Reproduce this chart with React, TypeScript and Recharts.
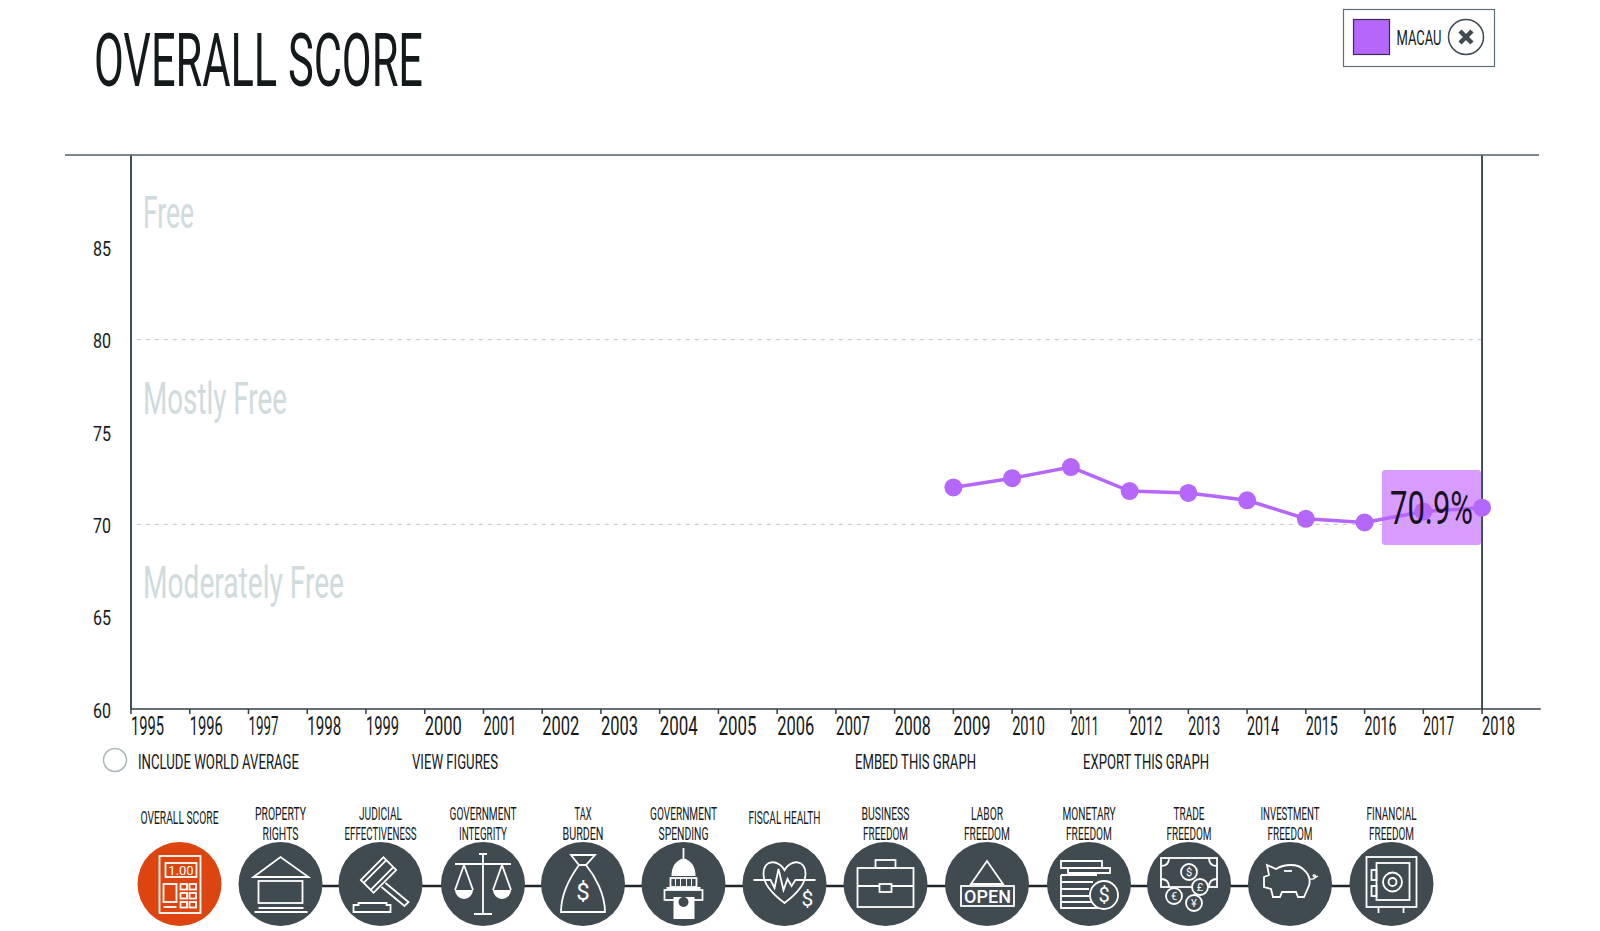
import React from "react";
import { LineChart, Line, XAxis, YAxis, ReferenceLine } from "recharts";

const years = [2009, 2010, 2011, 2012, 2013, 2014, 2015, 2016, 2017, 2018];
const scores = [72.0, 72.5, 73.1, 71.8, 71.7, 71.3, 70.3, 70.1, 70.7, 70.9];
const yearTicks = [1995, 1996, 1997, 1998, 1999, 2000, 2001, 2002, 2003, 2004, 2005, 2006, 2007, 2008, 2009, 2010, 2011, 2012, 2013, 2014, 2015, 2016, 2017, 2018];
const yearWidths = [33, 33, 30, 34, 33, 37, 33, 37, 37, 38, 38, 37, 34, 36, 37, 33, 28, 33, 32, 32, 32, 32, 31, 33];
const scoreTicks = [60, 65, 70, 75, 80, 85];
const bands = [
  { label: "Free", x: 143, y: 228, w: 51 },
  { label: "Mostly Free", x: 143, y: 414, w: 144 },
  { label: "Moderately Free", x: 143, y: 598, w: 201 },
];
const actions = [
  { label: "INCLUDE WORLD AVERAGE", x: 138, w: 161 },
  { label: "VIEW FIGURES", x: 412, w: 86 },
  { label: "EMBED THIS GRAPH", x: 855, w: 121 },
  { label: "EXPORT THIS GRAPH", x: 1083, w: 126 },
];
const indicators = [
  { cx: 179.5, lines: [["OVERALL SCORE", 78]] },
  { cx: 280.5, lines: [["PROPERTY", 51], ["RIGHTS", 36]] },
  { cx: 380.5, lines: [["JUDICIAL", 43], ["EFFECTIVENESS", 72]] },
  { cx: 483, lines: [["GOVERNMENT", 67], ["INTEGRITY", 48]] },
  { cx: 583, lines: [["TAX", 17], ["BURDEN", 41]] },
  { cx: 683.5, lines: [["GOVERNMENT", 67], ["SPENDING", 50]] },
  { cx: 784.5, lines: [["FISCAL HEALTH", 72]] },
  { cx: 885.5, lines: [["BUSINESS", 48], ["FREEDOM", 45]] },
  { cx: 987, lines: [["LABOR", 32], ["FREEDOM", 46]] },
  { cx: 1089, lines: [["MONETARY", 53], ["FREEDOM", 46]] },
  { cx: 1189, lines: [["TRADE", 31], ["FREEDOM", 45]] },
  { cx: 1290, lines: [["INVESTMENT", 59], ["FREEDOM", 45]] },
  { cx: 1391.5, lines: [["FINANCIAL", 50], ["FREEDOM", 45]] },
];

const data = years.map((year, i) => ({ year, score: scores[i] }));

const INK = "#14191c";
const SLATE = "#3f4b50";
const PURPLE = "#b566fb";
const FONT = "Roboto, 'Liberation Sans', sans-serif";

function T({ x, y, w, size, fill = INK, anchor = "start", weight = 400, children }: any) {
  return (
    <text x={x} y={y} fontFamily={FONT} fontSize={size} fontWeight={weight} fill={fill} textAnchor={anchor}
      textLength={w} lengthAdjust={w ? "spacingAndGlyphs" : undefined}>
      {children}
    </text>
  );
}

function YearTick({ x, payload }: any) {
  const i = yearTicks.indexOf(payload.value);
  return <T x={x} y={735} w={yearWidths[i]} size={25}>{payload.value}</T>;
}
function ScoreTick({ y, payload }: any) {
  return <T x={93} y={y + 8.5} w={18} size={21}>{payload.value}</T>;
}

const S = { fill: "none", stroke: "#fff", strokeWidth: 1.8 } as any;
const D = { fill: SLATE, stroke: "#fff", strokeWidth: 1.8 } as any;
const G = (x: number, y: number, ch: string, size = 13, fill = "#fff") => (
  <text x={x} y={y + size * 0.36} textAnchor="middle" fontFamily={FONT} fontWeight={400} fontSize={size} fill={fill}>{ch}</text>
);
const icons: React.ReactNode[] = [
  <g>
    <rect x={-20} y={-28} width={41} height={57} {...S} />
    <rect x={-14} y={-21} width={31} height={14} {...S} />
    {G(1.5, -14, "1.00", 13)}
    <rect x={-16} y={0} width={13} height={18} {...S} />
    <line x1={-16} x2={-3} y1={23} y2={23} {...S} />
    {[1, 10].map((gx) => [0, 9, 18].map((gy) => <rect key={gx + "-" + gy} x={gx} y={gy} width={6.5} height={5.5} {...S} />))}
  </g>,
  <g>
    <polygon points="-27,-7 0,-27 28,-7" {...S} />
    <rect x={-22} y={-3} width={44} height={22} {...S} />
    <line x1={-22} x2={23} y1={24} y2={24} {...S} />
    <line x1={-26} x2={27} y1={28} y2={28} {...S} />
  </g>,
  <g>
    <path d="M-27,21 H-22 V19 H6 V21 H10 V28 H-27 Z" {...S} />
    <g transform="rotate(45 -2 -9)">
      <rect x={-11} y={-25} width={18} height={32} {...S} />
      <line x1={-7} x2={-7} y1={-25} y2={7} {...S} />
      <line x1={3} x2={3} y1={-25} y2={7} {...S} />
    </g>
    <path d="M5,-1 L28,18 L24,22 L1,3" {...S} />
  </g>,
  <g>
    <path d="M0,-30 V30 M-4,-30 H4 M-9,30 H9 M-28,-20 H28" {...S} />
    <path d="M-19,-19 L-28,6 M-19,-19 L-10,6" {...S} />
    <path d="M19,-19 L10,6 M19,-19 L28,6" {...S} />
    <path d="M-28,6 H-10 A9,9 0 0 1 -28,6 Z M10,6 H28 A9,9 0 0 1 10,6 Z" fill="#fff" />
  </g>,
  <g>
    <path d="M-12,-29 H12 L3,-19 H-4 Z" {...S} />
    <path d="M-4,-19 C-12,-8 -22,10 -22,28 H22 C22,10 12,-8 3,-19" {...S} />
    {G(0, 7, "$", 24)}
  </g>,
  <g>
    <path d="M0,-36 V-26" {...S} />
    <path d="M-12,-8 Q-12,-22 0,-26 Q12,-22 12,-8 Z" fill="#fff" />
    <rect x={-13} y={-6} width={26} height={9} {...S} />
    <path d="M-8,-6 V3 M-3,-6 V3 M3,-6 V3 M8,-6 V3" {...S} strokeWidth={1} />
    <path d="M-17,3 H17 V6 H-17 Z" fill="#fff" />
    <rect x={-19} y={6} width={38} height={10} {...S} />
    <rect x={-10} y={13} width={21} height={22} fill="#fff" />
    <circle cx={0} cy={18} r={5} fill={SLATE} />
  </g>,
  <g>
    <path d="M0,19 C-12,10 -21,0 -21,-10 C-21,-26 -5,-24 0,-14 C5,-24 21,-26 21,-10 C21,0 12,10 0,19 Z" {...S} />
    <path d="M-31,-4 H-14 L-10,4 L-6,-15 L-1,6 L3,-5 L7,2 L11,-4 H31" {...S} />
    {G(23, 14, "$", 21)}
  </g>,
  <g>
    <rect x={-28} y={-16} width={56} height={39} {...S} />
    <rect x={-10} y={-24} width={20} height={8} {...S} />
    <line x1={-28} x2={28} y1={2} y2={2} {...S} />
    <rect x={-6} y={0} width={12} height={8} {...D} />
  </g>,
  <g>
    <polygon points="-16,0 0,-23 16,0" {...S} />
    <rect x={-26} y={2} width={53} height={20} {...S} />
    <text x={0.5} y={19} textAnchor="middle" fontFamily={FONT} fontWeight={500} fontSize={18} fill="#fff">OPEN</text>
  </g>,
  <g>
    <path d="M-28,-23 H13 V-16 H-28 Z M-21,-16 H21 V-11 H-21 Z M-28,-9 H8 M-28,-9 V24 H10 M-28,-2 H4 M-28,5 H0 M-28,12 H0 M-28,18 H2" {...S} />
    <circle cx={15} cy={11} r={14} {...D} />
    {G(15, 11, "$", 20)}
  </g>,
  <g>
    <rect x={-28} y={-26} width={56} height={29} {...S} />
    <path d="M-28,-18 Q-20,-18 -20,-26 M28,-18 Q20,-18 20,-26 M-28,-5 Q-20,-5 -20,3 M28,-5 Q20,-5 20,3" {...S} />
    <circle cx={0} cy={-12} r={8} {...D} />
    {G(0, -12, "$", 11)}
    <circle cx={11} cy={3} r={8} {...D} />
    {G(11, 3, "£", 11)}
    <circle cx={-15} cy={12} r={8} {...D} />
    {G(-15, 12, "€", 11)}
    <circle cx={5} cy={19} r={8} {...D} />
    {G(5, 19, "¥", 11)}
  </g>,
  <g>
    <path d="M-23,-19 L-14,-15 C-6,-20 8,-21 14,-14 C20,-9 21,-1 18,4 L14,13 H8 L6,8 H-8 L-10,13 H-17 L-19,5 L-26,3 V-7 L-21,-9 Z" {...S} />
    <path d="M-6,-13 H2" {...S} />
    <path d="M20,-5 C25,-4 27,-8 25,-9 C23,-10 22,-7 26,-7 L28,-8" {...S} strokeWidth={1.3} />
  </g>,
  <g>
    <rect x={-25} y={-27} width={50} height={50} {...S} />
    <rect x={-15} y={-21} width={33} height={37} {...S} />
    <rect x={-20} y={-14} width={5} height={10} {...S} />
    <rect x={-20} y={2} width={5} height={10} {...S} />
    <circle cx={1} cy={-2} r={9.5} {...S} />
    <circle cx={1} cy={-2} r={4} {...S} />
    <path d="M-13,23 V29 M12,23 V29" {...S} />
  </g>,
];

const layer: React.CSSProperties = { position: "absolute", left: 0, top: 0 };

export default function App() {
  return (
    <div style={{ position: "absolute", left: 0, top: 0, width: 1600, height: 931, overflow: "hidden", background: "#fff" }}>
      <svg width={1600} height={931} style={layer}>
        <rect x={1382} y={470} width={99} height={75} rx={3} fill="#d89bff" />
      </svg>
      <div style={layer}>
        <LineChart width={1600} height={931} data={data} margin={{ top: 155, right: 59.2, bottom: 182, left: 71 }}>
          <XAxis dataKey="year" type="number" domain={[1995, 2019]} ticks={yearTicks} interval={0} height={40}
            tick={<YearTick />} tickSize={5} stroke="#2f3f45" strokeWidth={1.5} allowDataOverflow />
          <YAxis type="number" domain={[60, 90]} ticks={scoreTicks} interval={0} width={60} tick={<ScoreTick />}
            tickLine={false} stroke="#2f3f45" strokeWidth={1.8} />
          <ReferenceLine segment={[{ x: 1995.1, y: 80 }, { x: 2018, y: 80 }]} stroke="#b8c5c7" strokeDasharray="4 5" />
          <ReferenceLine segment={[{ x: 1995.1, y: 70 }, { x: 2018, y: 70 }]} stroke="#b8c5c7" strokeDasharray="4 5" />
          <ReferenceLine x={2018} stroke="#2f3f45" strokeWidth={1.8} />
          <Line dataKey="score" stroke={PURPLE} strokeWidth={3.5} isAnimationActive={false}
            dot={{ r: 9, fill: PURPLE, stroke: "none" }} />
        </LineChart>
      </div>
      <svg width={1600} height={931} style={layer}>
        <T x={94} y={86} w={329} size={74}>OVERALL SCORE</T>
        <line x1={65} x2={1539} y1={155} y2={155} stroke="#4f5f65" strokeWidth={1.5} />

        <rect x={1343.5} y={9.5} width={151} height={57} fill="#fff" stroke="#5f7079" strokeWidth={1.2} />
        <rect x={1353.5} y={19.5} width={36} height={35} fill={PURPLE} stroke="#3b2a55" strokeWidth={1.2} />
        <T x={1396.5} y={45} w={45} size={21}>MACAU</T>
        <circle cx={1466} cy={37} r={17.5} fill="#fff" stroke={SLATE} strokeWidth={1.5} />
        <path d="M1460,31 L1472,43 M1472,31 L1460,43" stroke={SLATE} strokeWidth={4.5} />

        {bands.map((b) => <T key={b.label} x={b.x} y={b.y} w={b.w} size={44} fill="#cfdbdc">{b.label}</T>)}

        <T x={1390} y={524} w={83} size={46} fill="#17121f">70.9%</T>

        <circle cx={115} cy={760} r={11.5} fill="#fff" stroke="#a9b7ba" strokeWidth={1.5} />
        {actions.map((a) => <T key={a.label} x={a.x} y={769} w={a.w} size={21}>{a.label}</T>)}

        <line x1={indicators[1].cx} x2={indicators[12].cx} y1={886} y2={886} stroke="#20262a" strokeWidth={2.5} />
        {indicators.map((ind, i) => (
          <g key={i}>
            {(ind.lines as any[]).map(([label, w], j) => (
              <T key={j} x={ind.cx - (w as number) / 2} y={ind.lines.length === 1 ? 824 : 819.5 + j * 20.5} w={w} size={17.5}>{label}</T>
            ))}
            <circle cx={ind.cx} cy={884} r={42} fill={i === 0 ? "#dc4510" : SLATE} />
            <g transform={`translate(${ind.cx} 884)`}>{icons[i]}</g>
          </g>
        ))}
      </svg>
    </div>
  );
}
